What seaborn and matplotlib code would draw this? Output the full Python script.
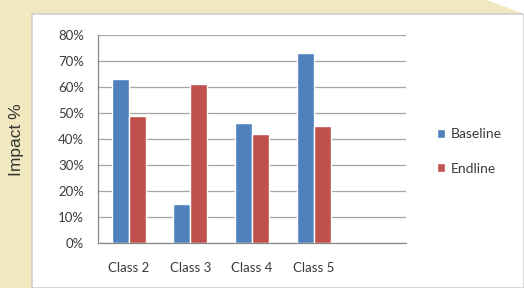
import pandas as pd
import seaborn as sns
import matplotlib.pyplot as plt
from matplotlib.patches import Rectangle, Polygon
from matplotlib.ticker import FixedLocator, PercentFormatter

# the data
classes = ['Class 2', 'Class 3', 'Class 4', 'Class 5']
baseline = [63, 15, 46, 73]
endline = [49, 61, 42, 45]
series = ['Baseline', 'Endline']
yticks = [0, 10, 20, 30, 40, 50, 60, 70, 80]

df = pd.DataFrame({
    'Class': classes * 2,
    'Series': ['Baseline'] * 4 + ['Endline'] * 4,
    'Impact': baseline + endline,
})

sns.set_style('white')
plt.rcParams['font.family'] = ['Lato', 'DejaVu Sans']

W, H = 524, 288
fig = plt.figure(figsize=(W / 100, H / 100), dpi=100)
fig.patch.set_facecolor('#F2E8C0')

# white panel the chart sits on
fig.patches.append(Rectangle((32 / W, 0), 1 - 32 / W, (H - 14) / H,
                             transform=fig.transFigure, facecolor='white',
                             edgecolor='#D0D0D0', linewidth=1.2, zorder=-2))
fig.patches.append(Polygon([(487 / W, 1), (1, 1), (1, 1 - 14 / H), (508 / W, 1 - 8 / H)],
                           closed=True, transform=fig.transFigure,
                           facecolor='white', edgecolor='none', zorder=-2))

ax = fig.add_axes([98 / W, 1 - 243 / H, (406 - 98) / W, (243 - 35) / H])
ax.set_facecolor('none')

sns.barplot(data=df, x='Class', y='Impact', hue='Series', order=classes,
            hue_order=series, palette=['#4F81BD', '#C0504D'], width=0.55,
            saturation=1, ax=ax, zorder=3)

ax.set_xlim(-0.5, 4.5)
ax.set_ylim(0, 80)
ax.set_yticks(yticks)
ax.yaxis.set_major_formatter(PercentFormatter(decimals=0))
ax.yaxis.grid(True, color='#A6A6A6', linewidth=0.9, zorder=0)
ax.set_axisbelow(True)

ax.set_xticks(range(4))
ax.set_xticklabels(classes)
ax.xaxis.set_minor_locator(FixedLocator([-0.5, 0.5, 1.5, 2.5, 3.5, 4.5]))
ax.tick_params(axis='x', which='major', length=0, pad=14, labelsize=9.5, labelcolor='#3A3A3A')
ax.tick_params(axis='x', which='minor', length=4, direction='out', color='#888888', width=0.8)
ax.tick_params(axis='y', length=4, direction='out', color='#888888', width=0.8,
               labelsize=9.5, labelcolor='#3A3A3A', pad=6)

for s in ['top', 'right']:
    ax.spines[s].set_visible(False)
for s in ['left', 'bottom']:
    ax.spines[s].set_color('#888888')
    ax.spines[s].set_linewidth(0.9)

ax.set_xlabel('')
ax.set_ylabel('')

leg = ax.legend(loc='center left', bbox_to_anchor=(1.06, 0.44), frameon=False,
                fontsize=10, handlelength=0.6, handleheight=0.6, labelspacing=1.6,
                handletextpad=0.4)
for t in leg.get_texts():
    t.set_color('#3A3A3A')

fig.text(17 / W, 1 - 140 / H, 'Impact %', rotation=90, ha='center', va='center',
         fontsize=12.5, color='#333333', family=['Liberation Sans', 'DejaVu Sans'])

fig.savefig('out.png', dpi=100)
